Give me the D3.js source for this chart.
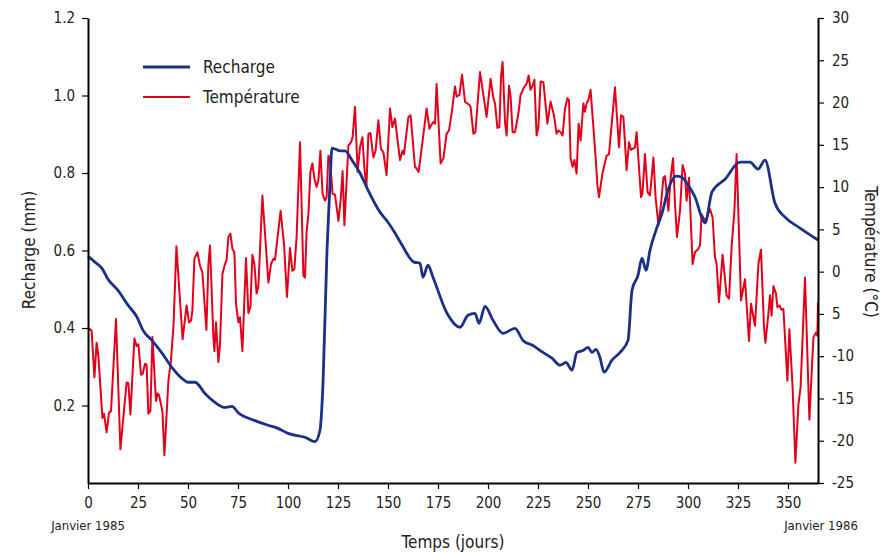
<!DOCTYPE html>
<html>
<head>
<meta charset="utf-8">
<script src="https://cdn.jsdelivr.net/npm/d3@7"></script>
<style>
  body { margin: 0; background: #fff; }
  svg text { font-family: "Liberation Sans Narrow", "DejaVu Sans Condensed", "Roboto", sans-serif; fill: #222; }
</style>
</head>
<body>
<svg id="chart" width="885" height="552"></svg>
<script>
// recharge (mm)
const rechargeDays = [0, 3.5, 7, 10, 15, 20, 24.5, 27.5, 32, 37, 42, 47, 50, 53.5, 58.5, 63.5, 68.5, 72, 75, 83.5,
  90, 95, 100, 108.5, 113.5, 116, 117.5, 119.5, 121, 122, 123.5, 126, 128.5, 132, 136, 140, 146, 150, 153.5, 157,
  163, 166, 167.5, 170, 172.5, 179.5, 186, 190, 193.5, 195.5, 198.5, 202.5, 207.5, 213.5, 217.5, 222.5, 227.5, 232, 236, 239,
  242, 244.5, 247.5, 250, 252, 254, 256, 258, 262, 266, 270, 272, 275, 277, 279, 281, 284, 287, 290, 294,
  297, 300, 303.5, 307.5, 308.5, 312, 318.5, 326, 331, 335, 338.5, 343.5, 348.5, 356, 365]
const rechargeValues = [0.585, 0.570, 0.554, 0.526, 0.497, 0.459, 0.428, 0.394, 0.368, 0.335, 0.298, 0.270, 0.260, 0.260, 0.231, 0.208, 0.195, 0.198, 0.182, 0.161,
  0.149, 0.141, 0.128, 0.118, 0.107, 0.136, 0.257, 0.601, 0.774, 0.864, 0.862, 0.857, 0.857, 0.833, 0.800, 0.756, 0.699, 0.673, 0.645, 0.614,
  0.570, 0.567, 0.531, 0.562, 0.531, 0.438, 0.402, 0.433, 0.438, 0.412, 0.456, 0.420, 0.386, 0.399, 0.368, 0.355, 0.337, 0.322, 0.304, 0.311,
  0.291, 0.337, 0.342, 0.350, 0.337, 0.345, 0.324, 0.286, 0.317, 0.337, 0.368, 0.497, 0.536, 0.580, 0.549, 0.601, 0.652, 0.696, 0.756, 0.792,
  0.789, 0.769, 0.738, 0.678, 0.671, 0.751, 0.784, 0.828, 0.828, 0.810, 0.833, 0.722, 0.686, 0.658, 0.627]

// temperature (°C)
const tempDays = [0, 1.8, 3.2, 4.3, 5.2, 7.2, 8, 9.3, 10.5, 11.5, 14, 16.2, 19.3, 20.2, 21.2, 23.2, 24.3, 25.2, 26.5, 27.3,
  28.5, 29.3, 30.2, 31.2, 32.2, 34, 34.8, 35.5, 37.2, 38.2, 40.2, 41.5, 42.8, 44.2, 47.3, 49.3, 50.5, 51.5, 52.2, 53.2,
  54.7, 56, 57.2, 59.2, 60.2, 61, 62.7, 63.2, 64, 65.2, 66, 67.2, 68.5, 69.3, 70.2, 71.2, 72.2, 73.2, 74, 75.2,
  76, 77.2, 79, 80.2, 81.2, 82.2, 83.2, 84.3, 85.2, 87.2, 90.2, 91.5, 92.7, 93.5, 96.3, 98, 99.5, 101, 102.2, 103.2,
  104.3, 106, 107.7, 108.5, 109.3, 110.2, 111.2, 112.2, 113.2, 114.3, 115.2, 116.2, 117.3, 118.5, 119.3, 120.2, 121, 122.3, 123.5, 125.2,
  126.3, 127.3, 128.2, 130.2, 131.5, 132.3, 133.5, 134.8, 136, 137.2, 138.2, 139.2, 140.2, 141.2, 142.7, 143.8, 145.2, 146.5, 147.7, 149.3,
  151, 152.2, 153.5, 154.7, 156, 157.3, 158, 160.2, 161.3, 163.5, 164.3, 165.3, 166.8, 169.3, 170.7, 171.8, 172.7, 173.5, 174.3, 176.3,
  177.7, 179.3, 180.5, 181.8, 183.5, 184.3, 185.7, 187, 188.5, 190.7, 191.3, 192.7, 193.7, 196, 199.3, 201.3, 202.7, 203.5, 204.7, 205.7,
  206.5, 207.3, 208.5, 209.3, 210.5, 211.3, 212.3, 213.5, 215.2, 216.3, 218, 219.3, 220.3, 221.3, 222.3, 223.2, 224.3, 225.2, 226.3, 227.7,
  229.7, 231.3, 233, 234.3, 235.2, 236.3, 237.3, 238.5, 239.7, 240.5, 241.3, 242.3, 243.2, 244.3, 245.3, 246.3, 247.7, 248.5, 249.3, 250.2,
  251.3, 252.7, 254, 254.7, 255.5, 257.2, 259.3, 260.5, 263.5, 265.5, 266.5, 267.7, 269.3, 270.5, 271.5, 273.5, 274.3, 276.5, 277.2, 278.5,
  279.8, 281, 282.7, 283.8, 285.2, 286.5, 287.7, 288.5, 290.2, 291.2, 292.5, 293.5, 294.5, 296, 297.3, 298.5, 299.3, 300.5, 302.3, 303.5,
  305.2, 306, 306.8, 308.5, 309.7, 311, 312.3, 313.5, 314.3, 315.5, 317.3, 319.3, 320.5, 321.8, 323.2, 324.3, 326.5, 328.5, 330.5, 331.5,
  333.5, 335.2, 336.5, 338, 338.7, 340.2, 341, 341.8, 342.7, 344, 344.7, 345.7, 346.8, 347.7, 349.7, 350.7, 352.3, 353.7, 355.2, 356.3,
  358.5, 360.7, 362.7, 364, 364.7, 365]
const tempValues = [-6.6, -7.0, -12.5, -8.4, -10.0, -17.3, -16.8, -19.0, -16.7, -16.5, -5.6, -21.0, -13.1, -13.2, -16.9, -7.9, -8.8, -8.6, -12.2, -12.1,
  -10.9, -11.0, -16.8, -16.5, -7.7, -15.3, -14.4, -14.6, -16.5, -21.7, -12.9, -10.5, -6.2, 3.0, -8.0, -4.0, -6.0, -5.8, -4.6, 1.5,
  2.3, 0.7, -0.1, -6.9, 0.9, 3.1, -7.8, -9.4, -6.0, -10.7, -8.6, -0.3, 0.9, 1.4, 4.1, 4.5, 2.7, 2.3, -3.8, -6.0,
  -5.4, -9.4, 1.6, -4.9, -4.2, 2.0, 0.9, -2.6, -1.7, 9.0, -1.3, 0.9, 1.5, 1.4, 7.2, 3.3, -3.0, 2.8, 0.1, 0.3,
  4.1, 15.3, -0.5, -0.7, 4.7, 6.8, 11.8, 12.8, 11.0, 10.0, 10.8, 14.3, 9.2, 8.4, 8.8, 13.7, 13.2, 9.2, 9.1, 6.0,
  8.4, 11.9, 5.5, 14.9, 15.3, 15.9, 19.5, 11.8, 14.7, 15.9, 12.2, 10.0, 16.3, 16.4, 13.5, 14.3, 17.9, 14.5, 14.1, 11.4,
  19.3, 17.1, 18.1, 15.7, 13.2, 14.3, 13.9, 18.3, 18.5, 12.4, 12.2, 11.8, 14.5, 19.3, 16.9, 17.4, 17.7, 17.5, 22.2, 12.8,
  13.4, 16.3, 16.7, 18.7, 21.9, 20.7, 20.9, 23.3, 20.1, 19.7, 19.5, 16.3, 16.5, 23.6, 18.3, 22.8, 20.5, 19.9, 17.0, 17.1,
  23.0, 24.8, 17.7, 16.1, 22.0, 20.7, 16.5, 16.5, 18.7, 20.9, 21.8, 22.2, 23.2, 21.5, 22.0, 22.7, 16.1, 17.1, 22.5, 22.4,
  17.5, 20.1, 18.5, 16.3, 16.7, 16.5, 16.1, 19.3, 20.5, 20.3, 13.4, 12.4, 13.2, 11.6, 17.5, 15.5, 19.9, 18.9, 19.9, 20.3,
  21.5, 17.1, 12.9, 10.2, 8.8, 11.6, 13.7, 13.9, 21.8, 14.7, 18.5, 18.3, 12.0, 15.3, 14.4, 14.7, 16.5, 8.8, 9.2, 13.9,
  9.4, 9.0, 13.5, 8.8, 5.5, 8.0, 11.1, 11.3, 7.2, 10.8, 13.4, 8.0, 4.1, 7.2, 12.6, 11.6, 8.4, 11.1, 0.9, 2.3,
  2.7, 3.1, 6.8, 6.0, 6.6, 7.4, 6.4, 1.7, 0.9, -3.6, 2.0, -2.8, -3.2, 2.9, 7.2, 13.9, -3.4, -0.9, -8.2, -3.8,
  -6.4, 0.9, 2.6, -6.6, -8.4, -5.0, -2.8, -5.2, -1.7, -2.6, -4.2, -4.0, -4.5, -4.4, -12.9, -6.8, -13.7, -22.6, -15.7, -13.7,
  -0.7, -17.5, -7.8, -7.2, -7.6, -3.6]

const xTicks = [0, 25, 50, 75, 100, 125, 150, 175, 200, 225, 250, 275, 300, 325, 350]
const rechargeTicks = [0.2, 0.4, 0.6, 0.8, 1.0, 1.2]
const tempTicks = [30, 25, 20, 15, 10, 5, 0, -5, -10, -15, -20, -25]
const tempTickLabels = ["30", "25", "20", "15", "10", "5", "0", "5", "-10", "-15", "-20", "-25"]

const seriesNames = ["Recharge", "Température"]
const seriesColors = ["#1b3088", "#e3001b"]

const svg = d3.select("#chart")
const plotLeft = 88, plotRight = 818, plotTop = 18, plotBottom = 483

const x = d3.scaleLinear().domain([0, 365]).range([plotLeft, plotRight])
const yL = d3.scaleLinear().domain([0, 1.2]).range([plotBottom, plotTop])
const yR = d3.scaleLinear().domain([-25, 30]).range([plotBottom, plotTop])

const recharge = rechargeDays.map((d, i) => ({day: d, v: rechargeValues[i]}))
const temp = tempDays.map((d, i) => ({day: d, v: tempValues[i]}))

// temperature first, recharge drawn on top
svg.append("path")
    .datum(temp)
    .attr("fill", "none")
    .attr("stroke", seriesColors[1])
    .attr("stroke-width", 2)
    .attr("stroke-linejoin", "round")
    .attr("d", d3.line().x(d => x(d.day)).y(d => yR(d.v)))

svg.append("path")
    .datum(recharge)
    .attr("fill", "none")
    .attr("stroke", seriesColors[0])
    .attr("stroke-width", 2.8)
    .attr("stroke-linejoin", "round")
    .attr("d", d3.line().curve(d3.curveMonotoneX).x(d => x(d.day)).y(d => yL(d.v)))

// axes
const styleAxis = g => {
    g.selectAll(".domain").attr("stroke", "#000").attr("stroke-width", 2)
    g.selectAll(".tick line").attr("stroke", "#000").attr("stroke-width", 1.2)
    g.selectAll(".tick text").attr("font-size", 15).attr("fill", "#222")
        .style("font-family", '"Liberation Sans Narrow", "DejaVu Sans Condensed", sans-serif')
}

svg.append("g")
    .attr("transform", `translate(0,${plotBottom})`)
    .call(d3.axisBottom(x).tickValues(xTicks).tickSize(6).tickSizeOuter(0).tickPadding(8))
    .call(styleAxis)

svg.append("g")
    .attr("transform", `translate(${plotLeft},0)`)
    .call(d3.axisLeft(yL).tickValues(rechargeTicks).tickFormat(d3.format(".1f")).tickSize(6).tickSizeOuter(0).tickPadding(7))
    .call(styleAxis)

svg.append("g")
    .attr("transform", `translate(${plotRight},0)`)
    .call(d3.axisRight(yR).tickValues(tempTicks).tickFormat((d, i) => tempTickLabels[i]).tickSize(6).tickSizeOuter(0).tickPadding(8))
    .call(styleAxis)

// titles
svg.append("text")
    .attr("transform", "translate(35,250) rotate(-90)")
    .attr("text-anchor", "middle")
    .attr("font-size", 17)
    .text("Recharge (mm)")

svg.append("text")
    .attr("transform", "translate(865,252) rotate(90)")
    .attr("text-anchor", "middle")
    .attr("font-size", 17)
    .text("Température (°C)")

svg.append("text")
    .attr("x", 453).attr("y", 548)
    .attr("text-anchor", "middle")
    .attr("font-size", 17)
    .text("Temps (jours)")

svg.append("text")
    .attr("x", 88).attr("y", 530)
    .attr("text-anchor", "middle")
    .attr("font-size", 13)
    .text("Janvier 1985")

svg.append("text")
    .attr("x", 821).attr("y", 530)
    .attr("text-anchor", "middle")
    .attr("font-size", 13)
    .text("Janvier 1986")

// legend
const legend = svg.append("g")
    .selectAll("g")
    .data(seriesNames)
    .enter()
        .append("g")
        .attr("transform", (d, i) => `translate(143,${67 + i * 30})`)

legend.append("line")
    .attr("x1", 0).attr("x2", 47)
    .attr("stroke", (d, i) => seriesColors[i])
    .attr("stroke-width", (d, i) => i == 0 ? 2.8 : 2)

legend.append("text")
    .attr("x", 60).attr("y", 6)
    .attr("font-size", 17)
    .text(d => d)
</script>
</body>
</html>
